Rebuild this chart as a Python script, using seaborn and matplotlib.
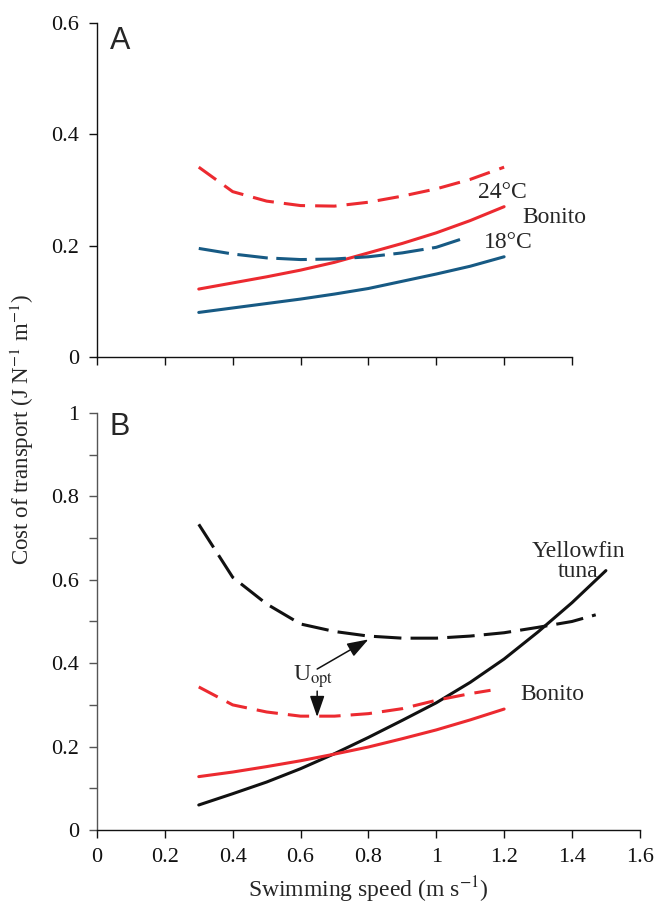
import numpy as np
import pandas as pd
import matplotlib.pyplot as plt
import seaborn as sns

# swimming speeds (m/s)
speed = [0.3, 0.4, 0.5, 0.6, 0.7, 0.8, 0.9, 1.0, 1.1, 1.2]

# Panel A - bonito at two temperatures
a_red_dash = [0.341, 0.297, 0.280, 0.272, 0.271, 0.278, 0.289, 0.302, 0.319, 0.341]
a_red_solid = [0.122, 0.133, 0.144, 0.156, 0.170, 0.187, 0.204, 0.223, 0.245, 0.270]
a_blue_speed = [0.3, 0.4, 0.5, 0.6, 0.7, 0.8, 0.9, 1.0, 1.07]
a_blue_dash = [0.195, 0.185, 0.178, 0.175, 0.176, 0.180, 0.187, 0.197, 0.211]
a_blue_solid = [0.080, 0.088, 0.096, 0.104, 0.113, 0.123, 0.136, 0.149, 0.163, 0.180]

# Panel B - yellowfin tuna vs bonito
b_tuna_speed = [0.3, 0.4, 0.5, 0.6, 0.7, 0.8, 0.9, 1.0, 1.1, 1.2, 1.3, 1.4, 1.5]
b_tuna_solid = [0.060, 0.087, 0.115, 0.147, 0.183, 0.222, 0.263, 0.305, 0.354, 0.410, 0.475, 0.545, 0.622]
b_tuna_dash_speed = [0.3, 0.4, 0.5, 0.6, 0.7, 0.8, 0.9, 1.0, 1.1, 1.2, 1.3, 1.4, 1.47]
b_tuna_dash = [0.733, 0.606, 0.542, 0.494, 0.476, 0.465, 0.460, 0.460, 0.465, 0.473, 0.486, 0.500, 0.516]
b_red_dash_speed = [0.3, 0.4, 0.5, 0.6, 0.7, 0.8, 0.9, 1.0, 1.1, 1.16]
b_red_dash = [0.343, 0.300, 0.283, 0.273, 0.273, 0.279, 0.291, 0.311, 0.327, 0.335]
b_red_solid = [0.128, 0.139, 0.152, 0.166, 0.182, 0.199, 0.219, 0.240, 0.264, 0.290]

RED = '#ec2a30'
BLUE = '#175a84'
BLACK = '#111111'

sns.set_style('ticks')
plt.rcParams['font.family'] = ['Liberation Serif', 'DejaVu Serif']
plt.rcParams['mathtext.fontset'] = 'stix'

fig = plt.figure(figsize=(6.62, 9.09), dpi=100)
ax_a = fig.add_axes([0.1465, 0.6073, 0.820, 0.3674])
ax_b = fig.add_axes([0.1465, 0.0869, 0.820, 0.4588])

lw = 2.2


def line(ax, x, y, color, ls='-'):
    df = pd.DataFrame({'x': x, 'y': y})
    sns.lineplot(data=df, x='x', y='y', ax=ax, color=color, lw=lw,
                 linestyle=ls, sort=False, errorbar=None)


# ---- panel A
line(ax_a, speed, a_red_dash, RED, (0, (7, 3.3)))
line(ax_a, speed, a_red_solid, RED)
line(ax_a, a_blue_speed, a_blue_dash, BLUE, (0, (10, 2.8)))
line(ax_a, speed, a_blue_solid, BLUE)

ax_a.set_xlim(0, 1.6)
ax_a.set_ylim(0, 0.6)
ax_a.set_xticks(np.arange(0, 1.41, 0.2))
ax_a.set_xticklabels([])
ax_a.spines['bottom'].set_bounds(0, 1.4)
ax_a.set_yticks([0, 0.2, 0.4, 0.6])
ax_a.set_yticklabels(['0', '0.2', '0.4', '0.6'])
ax_a.set_xlabel('')
ax_a.set_ylabel('')
ax_a.text(0.038, 0.568, 'A', family='Liberation Sans', fontsize=22, va='center')
ax_a.text(1.195, 0.295, '24°C', fontsize=17, ha='center', va='center')
ax_a.text(1.348, 0.251, 'Bonito', fontsize=17, ha='center', va='center')
ax_a.text(1.212, 0.205, '18°C', fontsize=17, ha='center', va='center')

# ---- panel B
line(ax_b, b_tuna_dash_speed, b_tuna_dash, BLACK, (0, (9, 3)))
line(ax_b, b_tuna_speed, b_tuna_solid, BLACK)
line(ax_b, b_red_dash_speed, b_red_dash, RED, (0, (7, 3.3)))
line(ax_b, speed, b_red_solid, RED)

ax_b.set_xlim(0, 1.6)
ax_b.set_ylim(0, 1.0)
ax_b.set_xticks(np.arange(0, 1.61, 0.2))
ax_b.set_xticklabels(['0', '0.2', '0.4', '0.6', '0.8', '1', '1.2', '1.4', '1.6'])
ax_b.set_yticks(np.arange(0, 1.01, 0.1))
ax_b.set_yticklabels(['0', '', '0.2', '', '0.4', '', '0.6', '', '0.8', '', '1'])
ax_b.set_ylabel('')
ax_b.set_xlabel('')
ax_b.text(0.038, 0.966, 'B', family='Liberation Sans', fontsize=22, va='center')
ax_b.text(1.419, 0.643, 'Yellowfin\ntuna', fontsize=17, ha='center', va='center',
          linespacing=0.95)
ax_b.text(1.342, 0.324, 'Bonito', fontsize=17, ha='center', va='center')
ax_b.text(0.637, 0.367, 'U$_{\\rm opt}$', fontsize=17, ha='center', va='center')
head = '-|>,head_length=1.3,head_width=0.45'
ax_b.annotate('', xy=(0.80, 0.457), xytext=(0.649, 0.386),
              arrowprops=dict(arrowstyle=head, color=BLACK, lw=1.1,
                              shrinkA=0, shrinkB=0))
ax_b.annotate('', xy=(0.649, 0.271), xytext=(0.649, 0.333),
              arrowprops=dict(arrowstyle=head, color=BLACK, lw=1.1,
                              shrinkA=0, shrinkB=0))

for ax in (ax_a, ax_b):
    sns.despine(ax=ax)
    ax.tick_params(direction='out', length=6, width=1, pad=7, labelsize=16,
                   colors=BLACK)
    for s in ('left', 'bottom'):
        ax.spines[s].set_linewidth(1.0)
        ax.spines[s].set_color(BLACK)
ax_b.spines['left'].set_color('#555555')
ax_b.tick_params(axis='y', color='#555555')

fig.text(0.557, 0.0132, 'Swimming speed (m s$^{-1}$)', fontsize=17,
         ha='center', va='baseline')
fig.text(0.033, 0.527, 'Cost of transport (J N$^{-1}$ m$^{-1}$)', rotation=90,
         fontsize=16.5, ha='center', va='center')

fig.savefig('out.png', dpi=100)
